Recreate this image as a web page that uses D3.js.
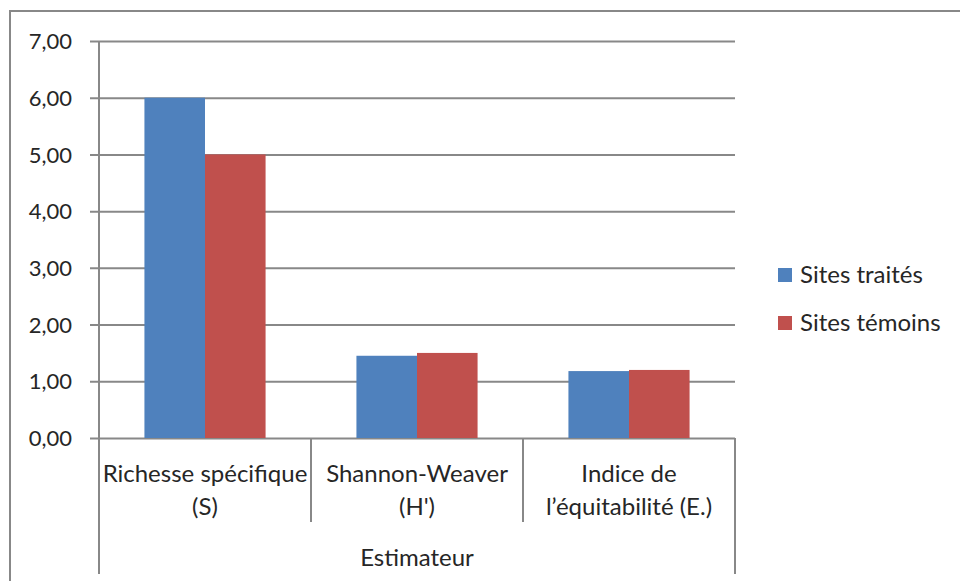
<!DOCTYPE html>
<html>
<head>
<meta charset="utf-8">
<script src="https://cdn.jsdelivr.net/npm/d3@7"></script>
<style>
  html, body { margin: 0; padding: 0; background: #fff; }
  svg { display: block; }
  text { font-family: Lato, "Open Sans", sans-serif; fill: #262626; }
</style>
</head>
<body>
<svg id="chart" width="960" height="581"></svg>
<script>
// Diversity estimators for treated vs. control sites
const categories = ["Richesse spécifique\n(S)", "Shannon-Weaver\n(H')", "Indice de\nl’équitabilité (E.)"];
const seriesNames = ["Sites traités", "Sites témoins"];
const sitesTraites = [6.00, 1.45, 1.18];
const sitesTemoins = [5.00, 1.50, 1.20];
const yTicks = [0, 1, 2, 3, 4, 5, 6, 7];
const axisTitle = "Estimateur";
const colors = ["#4F81BD", "#C0504D"];

const values = [sitesTraites, sitesTemoins];
const svg = d3.select("#chart");
const fontSize = 24;
const tickFontSize = 22;
const gridColor = "#888888";

const plot = { left: 99, right: 735, top: 41, bottom: 438 };

// outer chart frame
svg.append("rect")
  .attr("x", 10).attr("y", 11)
  .attr("width", 980).attr("height", 600)
  .attr("fill", "none").attr("stroke", gridColor).attr("stroke-width", 2);

const y = d3.scaleLinear().domain([0, 7]).range([plot.bottom, plot.top]);
const x0 = d3.scaleBand().domain(categories).range([plot.left, plot.right]).padding(0);
const bw = x0.bandwidth();
const gap = bw * 0.75 / 3.5;
const x1 = d3.scaleBand().domain(seriesNames).range([gap, bw - gap]).padding(0);

// horizontal gridlines with tick marks extending left
const yAxis = d3.axisLeft(y).tickValues(yTicks)
  .tickSize(-(plot.right - plot.left))
  .tickFormat(d => d3.format(".2f")(d).replace(".", ","));
const gy = svg.append("g").attr("transform", `translate(${plot.left},0)`).call(yAxis);
gy.select(".domain").remove();
gy.selectAll(".tick line")
  .attr("x1", -9)
  .attr("stroke", gridColor).attr("stroke-width", 2);
gy.selectAll(".tick text")
  .attr("x", -27).attr("dy", "0.35em")
  .style("font-size", tickFontSize + "px")
  .style("font-family", "Lato, 'Open Sans', sans-serif")
  .attr("fill", "#262626");

// vertical axis line
svg.append("line")
  .attr("x1", plot.left).attr("x2", plot.left)
  .attr("y1", plot.top).attr("y2", plot.bottom)
  .attr("stroke", gridColor).attr("stroke-width", 2);

// bars
categories.forEach((c, i) => {
  const g = svg.append("g").attr("transform", `translate(${x0(c)},0)`);
  g.selectAll("rect")
    .data(seriesNames.map((s, j) => ({ s, v: values[j][i], color: colors[j] })))
    .join("rect")
    .attr("x", d => x1(d.s))
    .attr("width", x1.bandwidth())
    .attr("y", d => y(d.v))
    .attr("height", d => y(0) - y(d.v))
    .attr("fill", d => d.color);
});

// category separators below the axis
const edges = categories.map(c => x0(c)).concat([plot.right]);
edges.forEach((ex, i) => {
  const outer = (i === 0 || i === edges.length - 1);
  svg.append("line")
    .attr("x1", ex).attr("x2", ex)
    .attr("y1", plot.bottom).attr("y2", outer ? 574 : 522)
    .attr("stroke", gridColor).attr("stroke-width", 2);
});

// category labels (two lines each)
categories.forEach(c => {
  const t = svg.append("text")
    .attr("text-anchor", "middle")
    .style("font-size", fontSize + "px");
  c.split("\n").forEach((line, k) => {
    t.append("tspan")
      .attr("x", x0(c) + bw / 2)
      .attr("y", 482 + k * 33)
      .text(line);
  });
});

// axis title
svg.append("text")
  .attr("x", (plot.left + plot.right) / 2)
  .attr("y", 566)
  .attr("text-anchor", "middle")
  .style("font-size", fontSize + "px")
  .text(axisTitle);

// legend
const legend = svg.append("g");
seriesNames.forEach((s, j) => {
  const ly = 275 + j * 48;
  legend.append("rect")
    .attr("x", 778).attr("y", ly - 7)
    .attr("width", 14).attr("height", 14)
    .attr("fill", colors[j]);
  legend.append("text")
    .attr("x", 800).attr("y", ly)
    .attr("dy", "0.35em")
    .style("font-size", fontSize + "px")
    .text(s);
});
</script>
</body>
</html>
